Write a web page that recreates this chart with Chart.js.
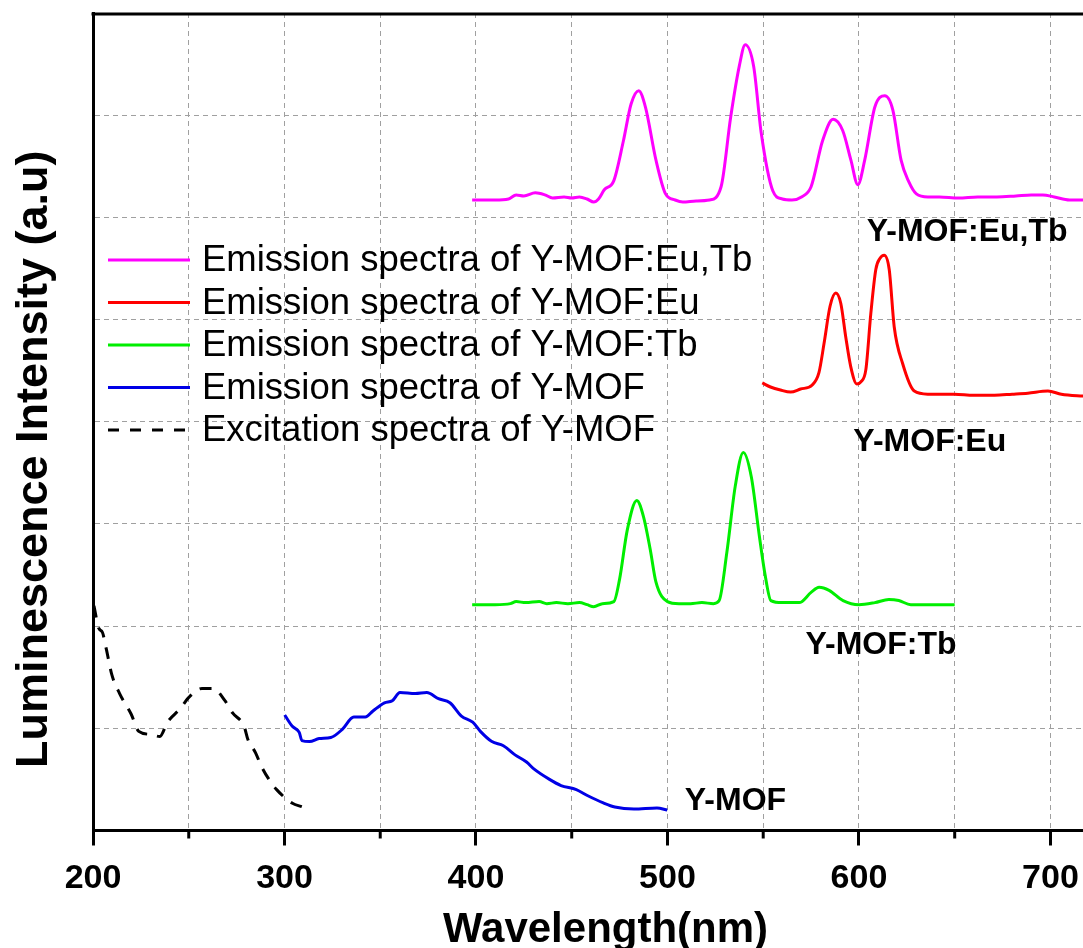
<!DOCTYPE html>
<html lang="en">
<head>
<meta charset="UTF-8">
<title>Luminescence spectra of Y-MOF</title>
<script src="https://cdn.jsdelivr.net/npm/chart.js"></script>
<style>
  html, body { margin: 0; padding: 0; background: #fff; overflow: hidden; }
</style>
</head>
<body>
<canvas id="grafico" width="1083" height="948"></canvas>

<script>
// values: wavelength (nm) and stacked intensity (a.u.)
const euTbWl = [398, 410, 417, 421, 425, 431, 436, 440, 446, 450, 454, 458, 461.5, 464, 467, 472, 477, 481, 485, 488.5, 494, 499, 504, 508, 515, 522, 528, 533, 537.5, 540.6, 545, 549, 555, 560, 565, 570, 575, 581, 586.5, 591.5, 595.8, 599.4, 603, 608.3, 613.5, 617.7, 622, 626, 630, 636, 642, 652, 662, 672, 682, 690, 696, 702, 710, 718];
const euTbInt = [6.17, 6.17, 6.18, 6.22, 6.21, 6.24, 6.22, 6.19, 6.2, 6.19, 6.2, 6.18, 6.15, 6.18, 6.27, 6.36, 6.75, 7.11, 7.24, 7.08, 6.56, 6.23, 6.17, 6.15, 6.16, 6.17, 6.3, 6.98, 7.48, 7.69, 7.48, 6.82, 6.26, 6.18, 6.17, 6.2, 6.3, 6.75, 6.96, 6.85, 6.56, 6.32, 6.56, 7.08, 7.19, 7.05, 6.56, 6.35, 6.23, 6.2, 6.2, 6.19, 6.2, 6.2, 6.21, 6.22, 6.22, 6.2, 6.17, 6.17];

const euWl = [549.5, 553.8, 559, 564.3, 569.5, 575.6, 579.1, 581.8, 584.9, 587.9, 590.5, 593.1, 595.7, 598.9, 601, 603.6, 606.2, 608.8, 611, 613.2, 615.8, 618.4, 622.8, 628.9, 635.9, 649.8, 660, 670.8, 680, 688.2, 698.7, 705.7, 718];
const euInt = [4.38, 4.34, 4.31, 4.29, 4.32, 4.36, 4.48, 4.77, 5.13, 5.26, 5.16, 4.83, 4.54, 4.37, 4.39, 4.51, 5.06, 5.49, 5.6, 5.63, 5.49, 4.93, 4.57, 4.3, 4.27, 4.27, 4.26, 4.26, 4.27, 4.28, 4.3, 4.27, 4.25];

const tbWl = [398, 410, 418, 421, 426, 433, 437, 442, 448, 454, 458, 461.5, 466, 472, 475, 479, 484, 487.5, 491, 494, 500, 506, 512, 518, 524, 527, 531, 535.4, 539.6, 543.8, 548, 551, 554, 560, 568.8, 575, 579.2, 584.4, 591.7, 600, 608.3, 615.6, 620.8, 627.1, 638, 650];
const tbInt = [2.21, 2.21, 2.22, 2.24, 2.23, 2.24, 2.22, 2.23, 2.22, 2.23, 2.21, 2.19, 2.22, 2.24, 2.46, 2.94, 3.23, 3.07, 2.75, 2.43, 2.24, 2.22, 2.22, 2.23, 2.22, 2.25, 2.72, 3.37, 3.7, 3.46, 2.88, 2.5, 2.25, 2.23, 2.23, 2.33, 2.38, 2.35, 2.25, 2.21, 2.23, 2.26, 2.25, 2.21, 2.21, 2.21];

const mofWl = [300.1, 304.1, 307.7, 309.1, 313.1, 318.1, 324.2, 330.2, 336.2, 342.2, 346.2, 352.2, 356.3, 360.3, 368.3, 374.3, 380.4, 386.4, 392.4, 398.3, 402.3, 408.3, 414.3, 420.4, 426.4, 430.4, 438.4, 444.4, 452.4, 458.4, 466.5, 472.5, 482.5, 494.5, 499.9];
const mofInt = [1.13, 1.02, 0.96, 0.88, 0.87, 0.9, 0.91, 0.99, 1.11, 1.11, 1.17, 1.25, 1.27, 1.35, 1.34, 1.35, 1.29, 1.25, 1.12, 1.06, 0.97, 0.87, 0.83, 0.74, 0.67, 0.6, 0.5, 0.44, 0.4, 0.34, 0.27, 0.23, 0.21, 0.22, 0.2];

const excWl = [200.5, 203, 204.9, 206.9, 209.9, 213.9, 219.9, 223.9, 229.9, 234.9, 238.9, 245.9, 249.9, 256.9, 262.9, 268.9, 272.9, 278.9, 280.9, 284.9, 287.9, 291.9, 295.9, 303.9, 309.5];
const excInt = [2.2, 1.98, 1.94, 1.78, 1.52, 1.34, 1.14, 0.97, 0.94, 0.92, 1.06, 1.2, 1.3, 1.39, 1.39, 1.27, 1.15, 1.02, 0.89, 0.76, 0.63, 0.5, 0.4, 0.27, 0.23];

const seriesNames = [
  'Emission spectra of Y-MOF:Eu,Tb',
  'Emission spectra of Y-MOF:Eu',
  'Emission spectra of Y-MOF:Tb',
  'Emission spectra of Y-MOF',
  'Excitation spectra of Y-MOF'
];

// curve names written next to the curves, anchored in data units
const curveLabels = ['Y-MOF:Eu,Tb', 'Y-MOF:Eu', 'Y-MOF:Tb', 'Y-MOF'];
const curveLabelWl = [656.5, 637, 611.5, 535.5];
const curveLabelInt = [5.86, 3.80, 1.81, 0.29];

const FONT = "'Liberation Sans', Arial, Helvetica, sans-serif";

function pts(xs, ys) {
  return xs.map((x, i) => ({ x: x, y: ys[i] }));
}

function serie(label, xs, ys, color, dash) {
  return {
    label: label,
    data: pts(xs, ys),
    borderColor: color,
    backgroundColor: color,
    borderWidth: 3,
    borderDash: dash || [],
    pointRadius: 0,
    cubicInterpolationMode: 'monotone',
    fill: false
  };
}

// top frame line + short minor ticks on the x axis
const moldura = {
  id: 'moldura',
  beforeDatasetsDraw(chart) {
    const ctx = chart.ctx;
    const x = chart.scales.x;
    const area = chart.chartArea;
    ctx.save();
    ctx.strokeStyle = '#000';
    ctx.lineWidth = 3;
    x.ticks.forEach(t => {
      if (t.value % 100 !== 0) {
        const px = x.getPixelForValue(t.value);
        ctx.beginPath();
        ctx.moveTo(px, area.bottom);
        ctx.lineTo(px, area.bottom + 8);
        ctx.stroke();
      }
    });
    ctx.restore();
  },
  afterDraw(chart) {
    const ctx = chart.ctx;
    const area = chart.chartArea;
    ctx.save();
    ctx.strokeStyle = '#000';
    ctx.lineWidth = 3;
    ctx.beginPath();
    ctx.moveTo(area.left - 1.5, area.top + 1);
    ctx.lineTo(chart.width, area.top + 1);
    ctx.stroke();
    ctx.restore();
  }
};

// legend inside the plot + curve names
const legenda = {
  id: 'legenda',
  afterDatasetsDraw(chart) {
    const ctx = chart.ctx;
    const area = chart.chartArea;
    const xs = chart.scales.x, ys = chart.scales.y;
    ctx.save();

    const x0 = area.left + 15, y0 = area.top + 247, passo = 42.5;
    ctx.font = '36.5px ' + FONT;
    ctx.textBaseline = 'middle';
    ctx.textAlign = 'left';
    chart.data.datasets.forEach((ds, i) => {
      const y = y0 + i * passo;
      ctx.strokeStyle = ds.borderColor;
      ctx.lineWidth = 3;
      ctx.setLineDash(ds.borderDash.length ? [11, 11] : []);
      ctx.beginPath();
      ctx.moveTo(x0, y);
      ctx.lineTo(x0 + 82, y);
      ctx.stroke();
      ctx.setLineDash([]);
      ctx.fillStyle = '#000';
      ctx.fillText(ds.label, x0 + 94, y + 1);
    });

    ctx.font = 'bold 32px ' + FONT;
    ctx.textAlign = 'center';
    curveLabels.forEach((t, i) => {
      ctx.fillText(t, xs.getPixelForValue(curveLabelWl[i]), ys.getPixelForValue(curveLabelInt[i]));
    });
    ctx.restore();
  }
};

const gridCor = '#a0a0a0';

new Chart(document.getElementById('grafico').getContext('2d'), {
  type: 'line',
  data: {
    datasets: [
      serie(seriesNames[0], euTbWl, euTbInt, '#ff00ff'),
      serie(seriesNames[1], euWl, euInt, '#ff0000'),
      serie(seriesNames[2], tbWl, tbInt, '#00ee00'),
      serie(seriesNames[3], mofWl, mofInt, '#0000e6'),
      serie(seriesNames[4], excWl, excInt, '#000000', [12, 10])
    ]
  },
  options: {
    responsive: false,
    animation: false,
    events: [],
    layout: { padding: { left: 0, top: 13, right: 0, bottom: 0 } },
    plugins: {
      legend: { display: false },
      tooltip: { enabled: false }
    },
    scales: {
      x: {
        type: 'linear',
        min: 200,
        max: 717,
        // the plot runs to the right edge of the figure (it is cropped there)
        afterFit: s => { s.paddingLeft = 0; s.paddingRight = 0; },
        border: { display: true, color: '#000', width: 3, dash: [5, 4] },
        grid: {
          color: gridCor,
          lineWidth: 1,
          tickLength: 15,
          tickWidth: 3,
          tickBorderDash: [],
          tickColor: c => (c.tick && c.tick.value % 100 === 0) ? '#000' : 'rgba(0,0,0,0)'
        },
        ticks: {
          stepSize: 50,
          includeBounds: false,
          autoSkip: false,
          maxRotation: 0,
          padding: 13,
          color: '#000',
          font: { family: FONT, size: 34, weight: 'bold', lineHeight: 1.2 },
          callback: v => (v % 100 === 0 ? String(v) : '')
        },
        title: {
          display: true,
          text: '   Wavelength(nm)',
          color: '#000',
          padding: { top: 0, bottom: 0 },
          font: { family: FONT, size: 42, weight: 'bold', lineHeight: 0.85 }
        }
      },
      y: {
        min: 0,
        max: 8,
        border: { display: true, color: '#000', width: 3, dash: [5, 4] },
        grid: {
          color: gridCor,
          lineWidth: 1,
          drawTicks: false
        },
        ticks: { stepSize: 1, display: false },
        title: {
          display: true,
          text: 'Luminescence Intensity (a.u)      ',
          color: '#000',
          padding: { top: 8, bottom: 31 },
          font: { family: FONT, size: 45, weight: 'bold', lineHeight: 1.2 }
        }
      }
    }
  },
  plugins: [moldura, legenda]
});
</script>
</body>
</html>
